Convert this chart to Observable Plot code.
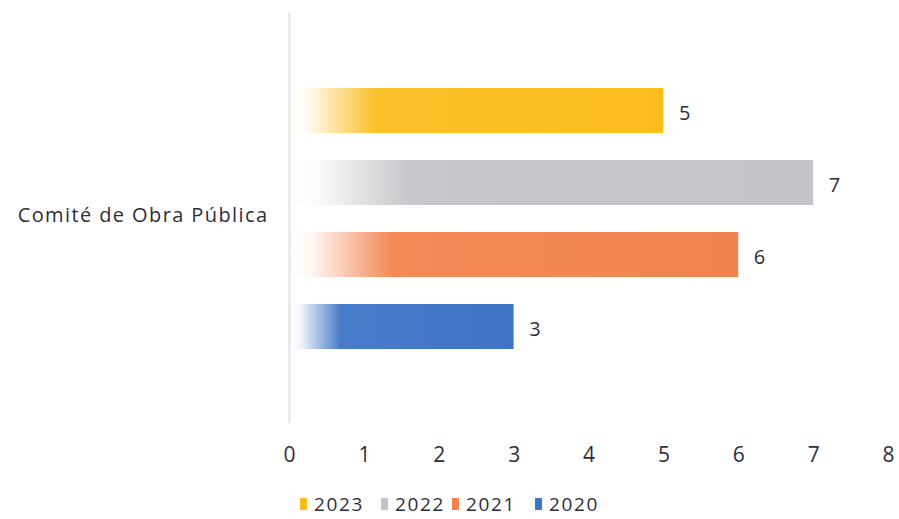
<!DOCTYPE html>
<html><head><meta charset="utf-8">
<script src="https://cdn.jsdelivr.net/npm/d3@7"></script>
<script src="https://cdn.jsdelivr.net/npm/@observablehq/plot@0.6"></script>
<style>
body{margin:0;background:#fff;font-family:"Open Sans",Lato,sans-serif;}
#legend{position:relative;height:40px;margin-top:13px;font-size:19px;color:#2e2e3a;letter-spacing:1.6px;}
#legend span{position:absolute;top:0;display:flex;align-items:center;}
#legend i{display:inline-block;width:7px;height:12px;margin-right:7px;}
</style></head>
<body><div id="chart"></div><div id="legend"></div>
<script>
const category = "Comité de Obra Pública";
const years = ["2023", "2022", "2021", "2020"];
const values = [5, 7, 6, 3];
const colors = ["#fbbd1e", "#c3c3c8", "#f2834e", "#3f74c6"];
const xTicks = [0, 1, 2, 3, 4, 5, 6, 7, 8];

const data = years.map((y, i) => ({year: y, value: values[i]}));

const marks = [
  Plot.ruleX([0], {stroke: "#e2e2e2", strokeWidth: 2})
];
years.forEach((y, i) => {
  marks.push(Plot.barX(data.filter(d => d.year === y), {x: "value", y: "year", fill: `url(#g${y})`}));
});
marks.push(Plot.text(data, {x: "value", y: "year", text: d => String(d.value), dx: 15, dy: 3, textAnchor: "start", fontSize: 20, fill: "#2e2e3a"}));
marks.push(Plot.text([category], {frameAnchor: "left", text: d => d, dx: -21, dy: -3, textAnchor: "end", fontSize: 20, fill: "#2e2e3a", className: "cat"}));
marks.push(Plot.text(xTicks, {x: d => d, frameAnchor: "bottom", text: d => String(d), dy: 38, fontSize: 21, fill: "#2e2e3a"}));

const chart = Plot.plot({
  width: 899, height: 478,
  marginLeft: 289, marginRight: 11, marginTop: 13, marginBottom: 55,
  style: {fontFamily: "'Open Sans', Lato, sans-serif", background: "#fff", fontSize: "19px", overflow: "visible"},
  y: {domain: years, padding: 0.375, paddingOuter: 1.03, axis: null},
  x: {domain: [0, 8], axis: null},
  marks
});
const svg = d3.select(chart);
svg.selectAll(".cat text").attr("letter-spacing", "1.4px");
const defs = svg.insert("defs", ":first-child");
years.forEach((y, i) => {
  const g = defs.append("linearGradient").attr("id", "g" + y).attr("x1", 0).attr("x2", 1).attr("y1", 0).attr("y2", 0);
  g.append("stop").attr("offset", 0).attr("stop-color", colors[i]).attr("stop-opacity", 0);
  g.append("stop").attr("offset", 0.05).attr("stop-color", colors[i]).attr("stop-opacity", 0.06);
  g.append("stop").attr("offset", 0.23).attr("stop-color", colors[i]).attr("stop-opacity", 0.95);
  g.append("stop").attr("offset", 1).attr("stop-color", colors[i]).attr("stop-opacity", 1);
});
document.getElementById("chart").appendChild(chart);

const legendX = [300, 381, 452, 535];
const leg = d3.select("#legend");
years.forEach((y, i) => {
  const s = leg.append("span").style("left", legendX[i] + "px");
  s.append("i").style("background", colors[i]);
  s.append("text").text(y);
});
</script></body></html>
